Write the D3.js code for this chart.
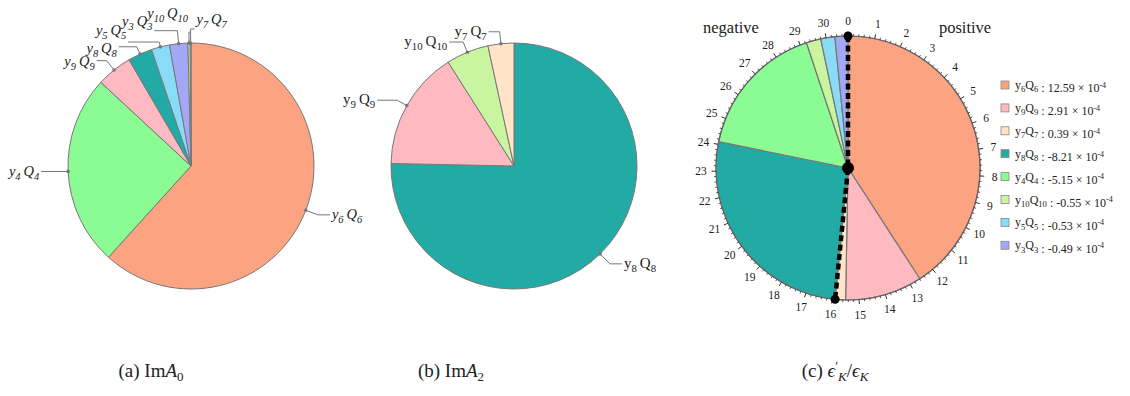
<!DOCTYPE html>
<html>
<head>
<meta charset="utf-8">
<script src="https://cdn.jsdelivr.net/npm/d3@7"></script>
<style>
  body { margin: 0; background: #fff; }
  text { font-family: "Liberation Serif", "DejaVu Serif", serif; fill: #222; }
</style>
</head>
<body>
<svg id="chart" width="1130" height="396"></svg>
<script>
// panel (a): Im A0, shares in percent
const termsA = ['y6Q6', 'y4Q4', 'y9Q9', 'y8Q8', 'y5Q5', 'y3Q3', 'y10Q10', 'y7Q7'];
const valuesA = [61.7, 25.2, 4.7, 3.2, 2.4, 2.4, 0.3, 0.1];

// panel (b): Im A2, shares in percent
const termsB = ['y8Q8', 'y9Q9', 'y10Q10', 'y7Q7'];
const valuesB = [75.4, 15.7, 5.6, 3.4];

// panel (c): eps'/eps contributions in units of 10^-4
const termsC = ['y6Q6', 'y9Q9', 'y7Q7', 'y8Q8', 'y4Q4', 'y10Q10', 'y5Q5', 'y3Q3'];
const valuesC = [12.59, 2.91, 0.39, -8.21, -5.15, -0.55, -0.53, -0.49];
const majorTicksC = d3.range(0, 31);

const colors = {
  y6Q6: '#fca482', y4Q4: '#8bfb94', y9Q9: '#ffb9c0', y8Q8: '#22aaa5',
  y5Q5: '#88dcf7', y3Q3: '#a3a8f6', y10Q10: '#c9f5a0', y7Q7: '#ffe4c8'
};

// callout layout: radial leader length, horizontal run, text vertical shift
const calloutA = [
  {len: 13, run: 12, ty: 0}, {len: 2, run: -25, ty: 0}, {len: 12, run: -10, ty: 1},
  {len: 8, run: -18, ty: 2}, {len: 5, run: -31, ty: -11}, {len: 13, run: -23, ty: -9},
  {len: 11, run: 1, ty: -18, anchor: 'end'}, {len: 14, run: 4, ty: -9}
];
const calloutB = [
  {len: 14, run: 12, ty: 0}, {len: 11, run: -20, ty: 0},
  {len: 11, run: -14, ty: 0}, {len: 12, run: -11, ty: 0}
];

const svg = d3.select('#chart');

function termText(sel, name, size, opts) {
  const m = name.match(/^y(\d+)Q(\d+)$/);
  const sub = size * 0.72, shift = size * 0.28;
  const gap = opts.gap ? '\u2009' : '';
  sel.append('tspan').text('y');
  sel.append('tspan').attr('dy', shift).attr('font-size', sub).text(m[1]);
  sel.append('tspan').attr('dy', -shift).text(gap + 'Q');
  sel.append('tspan').attr('dy', shift).attr('font-size', sub).text(m[2]);
  sel.append('tspan').attr('dy', -shift).text('');
}

function calloutPie(cx, cy, r, terms, values, layout, italic, fontSize) {
  const g = svg.append('g').attr('transform', `translate(${cx},${cy})`);
  const pie = d3.pie().sort(null).value(d => d);
  const arcs = pie(values);
  const arc = d3.arc().innerRadius(0).outerRadius(r);

  g.selectAll('path.slice')
    .data(arcs)
    .enter()
    .append('path')
    .attr('class', 'slice')
    .attr('d', arc)
    .attr('fill', (d, i) => colors[terms[i]])
    .attr('stroke', '#777')
    .attr('stroke-width', 1);

  arcs.forEach((d, i) => {
    const a = (d.startAngle + d.endAngle) / 2;
    const c = layout[i];
    const ax = Math.sin(a) * r, ay = -Math.cos(a) * r;
    const ex = Math.sin(a) * (r + c.len), ey = -Math.cos(a) * (r + c.len);
    const tx = ex + c.run;
    g.append('path')
      .attr('d', d3.line()([[ax, ay], [ex, ey], [tx, ey]]))
      .attr('fill', 'none')
      .attr('stroke', '#777')
      .attr('stroke-width', 1);
    g.append('circle').attr('cx', ax).attr('cy', ay).attr('r', 1.8).attr('fill', '#777');
    const anchor = c.anchor || (c.run < 0 ? 'end' : 'start');
    const t = g.append('text')
      .attr('x', tx + (anchor === 'end' ? -2 : 2))
      .attr('y', ey + c.ty + 4)
      .attr('text-anchor', anchor)
      .attr('font-size', fontSize)
      .attr('font-style', italic ? 'italic' : 'normal');
    termText(t, terms[i], fontSize, {gap: true});
  });
}

calloutPie(191, 166, 123, termsA, valuesA, calloutA, true, 14.5);
calloutPie(514, 166, 123, termsB, valuesB, calloutB, false, 15);

// panel (c)
(function() {
  const cx = 848, cy = 168, r = 132;
  const g = svg.append('g').attr('transform', `translate(${cx},${cy})`);
  const total = d3.sum(valuesC, v => Math.abs(v));
  const angle = d3.scaleLinear().domain([0, total]).range([0, 2 * Math.PI]);
  const pt = (v, rr) => [Math.sin(angle(v)) * rr, -Math.cos(angle(v)) * rr];

  const pie = d3.pie().sort(null).value(d => Math.abs(d));
  const arc = d3.arc().innerRadius(0).outerRadius(r);

  g.selectAll('path.slice')
    .data(pie(valuesC))
    .enter()
    .append('path')
    .attr('class', 'slice')
    .attr('d', arc)
    .attr('fill', (d, i) => colors[termsC[i]])
    .attr('stroke', '#777')
    .attr('stroke-width', 1.2);

  g.append('circle').attr('r', r).attr('fill', 'none').attr('stroke', '#666').attr('stroke-width', 1.2);

  // minor ticks every 0.2, major at integers
  const minor = d3.range(0, total, 0.2).filter(v => Math.abs(v - Math.round(v)) > 1e-6);
  g.selectAll('line.minor')
    .data(minor)
    .enter()
    .append('line')
    .attr('x1', d => pt(d, r)[0]).attr('y1', d => pt(d, r)[1])
    .attr('x2', d => pt(d, r + 2.2)[0]).attr('y2', d => pt(d, r + 2.2)[1])
    .attr('stroke', '#333').attr('stroke-width', 0.8);
  g.selectAll('line.major')
    .data(majorTicksC)
    .enter()
    .append('line')
    .attr('x1', d => pt(d, r)[0]).attr('y1', d => pt(d, r)[1])
    .attr('x2', d => pt(d, r + 4.5)[0]).attr('y2', d => pt(d, r + 4.5)[1])
    .attr('stroke', '#333').attr('stroke-width', 1);
  g.selectAll('text.tick')
    .data(majorTicksC)
    .enter()
    .append('text')
    .attr('x', d => pt(d, r + 15)[0])
    .attr('y', d => pt(d, r + 15)[1])
    .attr('dy', '0.35em')
    .attr('text-anchor', 'middle')
    .attr('font-size', 11.5)
    .text(d => d);

  // boundary between positive and negative contributions
  const posSum = d3.sum(valuesC.filter(v => v > 0));
  const top = pt(0, r), bottom = pt(posSum, r);
  g.append('path')
    .attr('d', d3.line()([top, [0, 0], bottom]))
    .attr('fill', 'none')
    .attr('stroke', '#000')
    .attr('stroke-width', 4.5)
    .attr('stroke-dasharray', '6,3.5');
  g.append('circle').attr('cx', top[0]).attr('cy', top[1]).attr('r', 4.5).attr('fill', '#000');
  g.append('circle').attr('cx', 0).attr('cy', 0).attr('r', 6).attr('fill', '#000');
  g.append('circle').attr('cx', bottom[0]).attr('cy', bottom[1]).attr('r', 4.5).attr('fill', '#000');

  svg.append('text').attr('x', 731).attr('y', 33).attr('text-anchor', 'middle').attr('font-size', 16.5).text('negative');
  svg.append('text').attr('x', 965).attr('y', 33).attr('text-anchor', 'middle').attr('font-size', 16.5).text('positive');

  // legend
  const legend = svg.append('g').attr('transform', 'translate(1001,85)');
  const row = legend.selectAll('g')
    .data(termsC)
    .enter()
    .append('g')
    .attr('transform', (d, i) => `translate(0,${i * 22.9})`);
  row.append('rect')
    .attr('x', 0).attr('y', -4).attr('width', 8).attr('height', 8)
    .attr('fill', d => colors[d])
    .attr('stroke', '#888').attr('stroke-width', 0.8);
  row.each(function(d, i) {
    const t = d3.select(this).append('text')
      .attr('x', 14).attr('y', 4)
      .attr('font-size', 12);
    termText(t, d, 12, {gap: false});
    const v = valuesC[i];
    t.append('tspan').text((d === 'y3Q3' ? ' :  ' : ' : ') + v.toFixed(2) + ' \u00d7 10');
    t.append('tspan').attr('dy', -4.5).attr('font-size', 8).text('-4');
  });
})();

// captions
function caption(x, parts) {
  const t = svg.append('text').attr('x', x).attr('y', 377).attr('text-anchor', 'middle').attr('font-size', 19);
  parts.forEach(p => {
    const s = t.append('tspan').text(p.t);
    if (p.i) s.attr('font-style', 'italic');
    if (p.dy) s.attr('dy', p.dy);
    if (p.fs) s.attr('font-size', p.fs);
  });
}
caption(151, [{t: '(a) Im'}, {t: 'A', i: 1}, {t: '0', dy: 4, fs: 13}]);
caption(451, [{t: '(b) Im'}, {t: 'A', i: 1}, {t: '2', dy: 4, fs: 13}]);
caption(835, [{t: '(c) '}, {t: '\u03f5', i: 1}, {t: '\u2032', dy: -7, fs: 13}, {t: 'K', i: 1, dy: 11, fs: 13},
  {t: '/', dy: -4}, {t: '\u03f5', i: 1}, {t: 'K', i: 1, dy: 4, fs: 13}]);
</script>
</body>
</html>
